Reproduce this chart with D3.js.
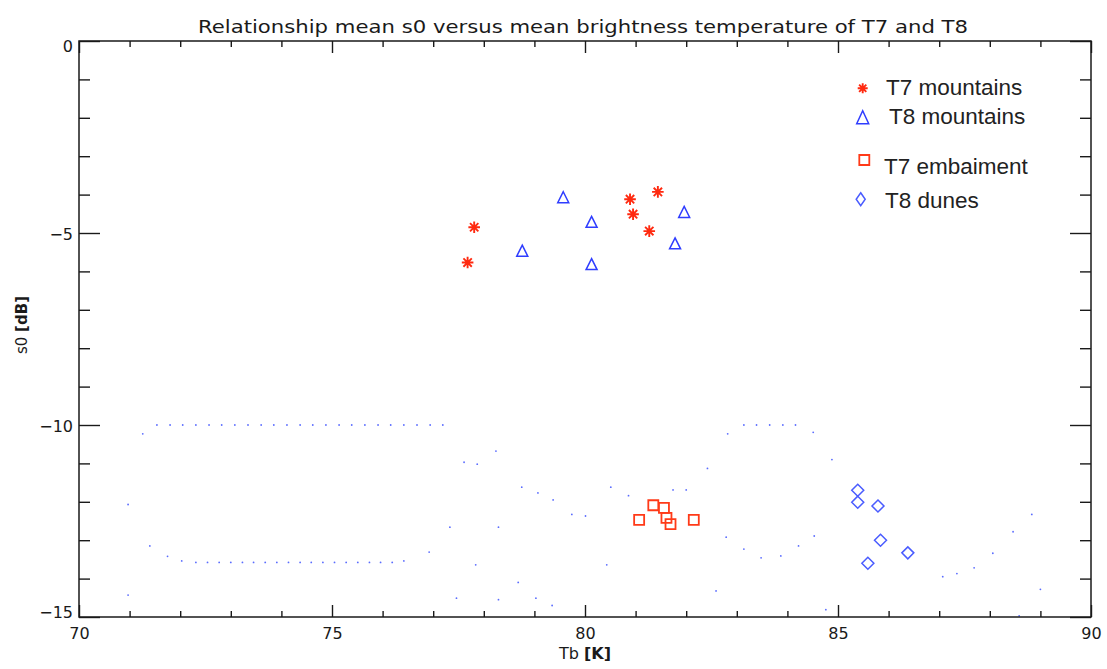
<!DOCTYPE html>
<html>
<head>
<meta charset="utf-8">
<script src="https://cdn.jsdelivr.net/npm/d3@7"></script>
<style>
  body { margin: 0; background: #fff; }
  svg { display: block; }
</style>
</head>
<body>
<svg id="chart"></svg>
<script>
// values
const t7MountainsTb = [77.81, 77.68, 80.89, 81.44, 80.95, 81.27];
const t7MountainsS0 = [-4.85, -5.77, -4.12, -3.93, -4.51, -4.95];

const t8MountainsTb = [79.57, 80.13, 78.76, 80.13, 81.96, 81.78];
const t8MountainsS0 = [-4.07, -4.71, -5.46, -5.81, -4.45, -5.27];

const t7EmbaimentTb = [81.07, 81.35, 81.56, 81.61, 81.69, 82.15];
const t7EmbaimentS0 = [-12.47, -12.09, -12.16, -12.42, -12.58, -12.47];

const t8DunesTb = [85.39, 85.39, 85.79, 85.84, 86.38, 85.59];
const t8DunesS0 = [-11.70, -12.01, -12.11, -13.00, -13.33, -13.60];

// faint dotted background traces [Tb, s0]
const bgDots = [
  [71.54, -10], [71.80, -10], [72.05, -10], [72.31, -10], [72.57, -10], [72.82, -10],
  [73.08, -10], [73.34, -10], [73.60, -10], [73.85, -10], [74.11, -10], [74.37, -10],
  [74.62, -10], [74.88, -10], [75.14, -10], [75.39, -10], [75.65, -10], [75.91, -10],
  [76.16, -10], [76.42, -10], [76.68, -10], [76.94, -10], [77.19, -10],
  [83.14, -10], [83.39, -10], [83.65, -10], [83.91, -10], [84.16, -10],
  [72.31, -13.58], [72.54, -13.58], [72.77, -13.58], [73.00, -13.58], [73.23, -13.58],
  [73.45, -13.58], [73.68, -13.58], [73.91, -13.58], [74.14, -13.58], [74.37, -13.58],
  [74.59, -13.58], [74.82, -13.58], [75.05, -13.58], [75.28, -13.58], [75.51, -13.58],
  [75.74, -13.58], [75.96, -13.58], [76.19, -13.58], [76.42, -13.54],
  [71.26, -10.23], [70.97, -12.07], [71.40, -13.15], [71.75, -13.42], [72.03, -13.54],
  [70.97, -14.43], [82.82, -10.23], [78.24, -10.68], [77.61, -10.97], [77.87, -11.02],
  [82.42, -11.13], [78.75, -11.62], [79.07, -11.77], [79.37, -11.95], [80.51, -11.62],
  [80.86, -11.84], [81.74, -11.69], [82.00, -11.69], [79.74, -12.33], [80.01, -12.37],
  [77.33, -12.66], [78.29, -12.66], [82.79, -12.92], [76.92, -13.31], [77.84, -13.64],
  [80.43, -13.64], [78.68, -14.10], [82.59, -14.32], [77.46, -14.51], [78.29, -14.55],
  [79.03, -14.51], [79.35, -14.70], [84.51, -10.19], [84.88, -10.90], [88.83, -12.33],
  [88.46, -12.78], [84.53, -12.89], [84.22, -13.15], [83.14, -13.23], [83.48, -13.46],
  [83.87, -13.41], [88.06, -13.34], [87.69, -13.72], [87.35, -13.87], [87.07, -13.95],
  [89.00, -14.28], [84.76, -14.81], [88.58, -14.97]
];

const xMajorTicks = [70, 75, 80, 85, 90];
const yMajorTicks = [0, -5, -10, -15];
const legendLabels = ["T7 mountains", "T8 mountains", "T7 embaiment", "T8 dunes"];

const titleText = "Relationship mean s0 versus mean brightness temperature of T7 and T8";

const width = 1107, height = 669;
const margin = { top: 41, right: 16, bottom: 52, left: 79 };
const innerW = width - margin.left - margin.right;
const innerH = height - margin.top - margin.bottom;

const svg = d3.select("#chart").attr("width", width).attr("height", height);
const chart = svg.append("g").attr("transform", `translate(${margin.left},${margin.top})`);

const x = d3.scaleLinear().domain([70, 90]).range([0, innerW]);
const y = d3.scaleLinear().domain([-15, 0]).range([innerH, 0]);

const xMinor = d3.range(70, 91, 1).filter(v => v % 5 !== 0);
const yMinor = d3.range(-15, 1, 1).filter(v => v % 5 !== 0);

const tickFont = "'DejaVu Sans', sans-serif";
const ink = "#1a1a1a";

function styleAxis(g) {
  g.select(".domain").remove();
  g.selectAll("line").attr("stroke", ink).attr("stroke-width", 1.4);
}

// background dots
chart.append("g")
  .selectAll("circle")
  .data(bgDots)
  .join("circle")
  .attr("cx", d => x(d[0]))
  .attr("cy", d => y(d[1]))
  .attr("r", 0.9)
  .attr("fill", "#5a6cff");

// bottom axis
chart.append("g").attr("transform", `translate(0,${innerH})`)
  .call(d3.axisBottom(x).tickValues(xMajorTicks).tickSize(-12).tickFormat(d3.format("d")))
  .call(styleAxis)
  .call(g => g.selectAll("text")
    .attr("y", 22).attr("dy", 0)
    .attr("font-family", tickFont).attr("font-size", 16).attr("fill", ink));
chart.append("g").attr("transform", `translate(0,${innerH})`)
  .call(d3.axisBottom(x).tickValues(xMinor).tickSize(-6).tickFormat(""))
  .call(styleAxis);

// top axis
chart.append("g")
  .call(d3.axisTop(x).tickValues(xMajorTicks).tickSize(-12).tickFormat(""))
  .call(styleAxis);
chart.append("g")
  .call(d3.axisTop(x).tickValues(xMinor).tickSize(-6).tickFormat(""))
  .call(styleAxis);

// left axis
const yLabelShift = v => v === 0 ? 5 : (v === -15 ? -5 : 1);
chart.append("g")
  .call(d3.axisLeft(y).tickValues(yMajorTicks).tickSize(-21).tickPadding(6).tickFormat(d3.format("d")))
  .call(styleAxis)
  .call(g => g.selectAll("text")
    .attr("x", -6)
    .attr("dy", d => `${0.36 + yLabelShift(d) / 16}em`)
    .attr("font-family", tickFont).attr("font-size", 16).attr("fill", ink));
chart.append("g")
  .call(d3.axisLeft(y).tickValues(yMinor).tickSize(-11).tickFormat(""))
  .call(styleAxis);

// right axis
chart.append("g").attr("transform", `translate(${innerW},0)`)
  .call(d3.axisRight(y).tickValues(yMajorTicks).tickSize(-21).tickFormat(""))
  .call(styleAxis);
chart.append("g").attr("transform", `translate(${innerW},0)`)
  .call(d3.axisRight(y).tickValues(yMinor).tickSize(-11).tickFormat(""))
  .call(styleAxis);

// frame
chart.append("rect")
  .attr("width", innerW).attr("height", innerH)
  .attr("fill", "none").attr("stroke", ink).attr("stroke-width", 1.5);

// marker shapes
function asterisk(r) {
  const a = r * 0.72;
  return `M${-r},0L${r},0M0,${-r}L0,${r}M${-a},${-a}L${a},${a}M${-a},${a}L${a},${-a}`;
}
function triangle(w, h) {
  return `M0,${-h / 2}L${w / 2},${h / 2}L${-w / 2},${h / 2}Z`;
}
function square(s) {
  return `M${-s / 2},${-s / 2}H${s / 2}V${s / 2}H${-s / 2}Z`;
}
function diamond(w, h) {
  return `M0,${-h / 2}L${w / 2},0L0,${h / 2}L${-w / 2},0Z`;
}

const series = [
  { tb: t7MountainsTb, s0: t7MountainsS0, path: asterisk(5.8), legendPath: asterisk(5), color: "#ff2a10", sw: 1.9 },
  { tb: t8MountainsTb, s0: t8MountainsS0, path: triangle(11, 11), legendPath: triangle(12, 13), color: "#2f3dff", sw: 1.5 },
  { tb: t7EmbaimentTb, s0: t7EmbaimentS0, path: square(10), legendPath: square(10), color: "#ff3a18", sw: 1.8 },
  { tb: t8DunesTb, s0: t8DunesS0, path: diamond(12, 12), legendPath: diamond(9, 13), color: "#4a5cff", sw: 1.5 }
];

series.forEach(s => {
  chart.append("g")
    .selectAll("path")
    .data(s.tb.map((v, i) => [v, s.s0[i]]))
    .join("path")
    .attr("transform", d => `translate(${x(d[0])},${y(d[1])})`)
    .attr("d", s.path)
    .attr("fill", "none")
    .attr("stroke", s.color)
    .attr("stroke-width", s.sw);
});

// legend
const legendPos = [
  { sx: 862.7, sy: 88.3, tx: 886, ty: 94.5 },
  { sx: 862.7, sy: 117.3, tx: 889, ty: 124 },
  { sx: 864.3, sy: 160, tx: 884, ty: 174 },
  { sx: 860.7, sy: 199.3, tx: 885, ty: 207.5 }
];
const legend = svg.append("g");
legendLabels.forEach((label, i) => {
  const p = legendPos[i];
  legend.append("path")
    .attr("transform", `translate(${p.sx},${p.sy})`)
    .attr("d", series[i].legendPath)
    .attr("fill", "none")
    .attr("stroke", series[i].color)
    .attr("stroke-width", series[i].sw);
  legend.append("text")
    .attr("x", p.tx).attr("y", p.ty)
    .attr("font-family", "'Liberation Sans', Arial, sans-serif")
    .attr("font-size", 22.5)
    .attr("fill", "#222")
    .text(label);
});

// title
svg.append("text")
  .attr("x", 198).attr("y", 33)
  .attr("font-family", tickFont)
  .attr("font-size", 17)
  .attr("fill", ink)
  .attr("textLength", 770)
  .attr("lengthAdjust", "spacingAndGlyphs")
  .text(titleText);

// axis titles
const xTitle = svg.append("text")
  .attr("x", margin.left + innerW / 2).attr("y", 659)
  .attr("text-anchor", "middle")
  .attr("font-family", tickFont).attr("font-size", 16).attr("fill", ink);
xTitle.append("tspan").text("Tb ");
xTitle.append("tspan").attr("font-weight", "bold").text("[K]");

const yTitle = svg.append("text")
  .attr("transform", "translate(27,325) rotate(-90)")
  .attr("text-anchor", "middle")
  .attr("font-family", tickFont).attr("font-size", 15).attr("fill", ink);
yTitle.append("tspan").text("s0 ");
yTitle.append("tspan").attr("font-weight", "bold").text("[dB]");
</script>
</body>
</html>
